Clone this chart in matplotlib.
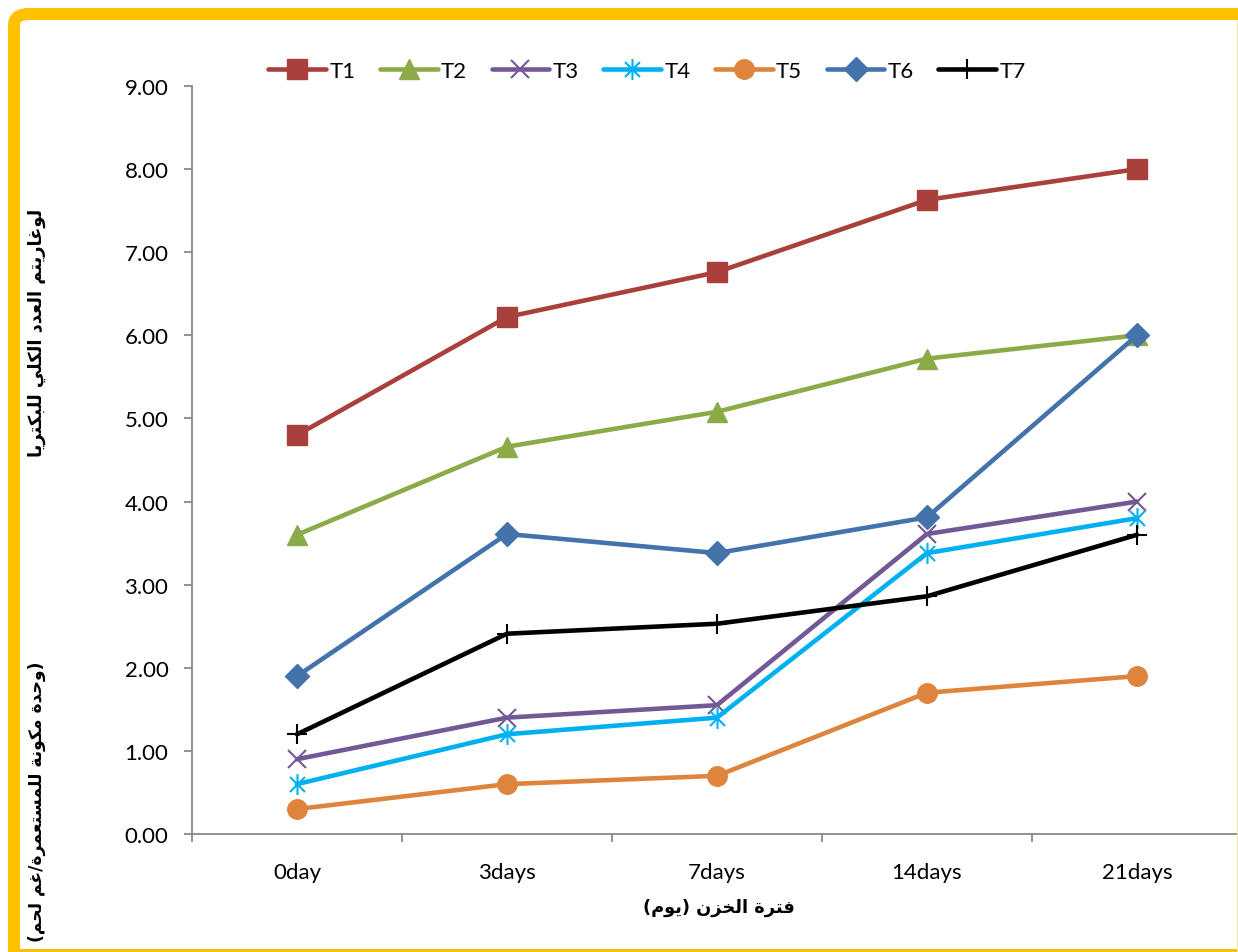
import matplotlib
matplotlib.use("Agg")
import matplotlib.pyplot as plt
from matplotlib.path import Path
from matplotlib.patches import FancyBboxPatch, Rectangle
import numpy as np

# ---------------- data ----------------
categories = ["0day", "3days", "7days", "14days", "21days"]
series_names = ["T1", "T2", "T3", "T4", "T5", "T6", "T7"]
T1 = [4.80, 6.22, 6.76, 7.63, 8.00]
T2 = [3.60, 4.66, 5.08, 5.72, 6.00]
T3 = [0.90, 1.40, 1.55, 3.61, 4.00]
T4 = [0.60, 1.20, 1.40, 3.38, 3.80]
T5 = [0.30, 0.60, 0.70, 1.70, 1.90]
T6 = [1.90, 3.61, 3.38, 3.81, 6.00]
T7 = [1.20, 2.41, 2.53, 2.86, 3.60]
yticks = [0, 1, 2, 3, 4, 5, 6, 7, 8, 9]
xlabel_text = "فترة الخزن (يوم)"
ylabel_top = "لوغاريتم العدد الكلي للبكتريا"
ylabel_bottom = "(وحدة مكونة للمستعمرة/غم لحم)"

# ---------------- simple Arabic shaping (presentation forms) ----------------
FORMS = {
    '\u0621': ('\uFE80', None, None, None),
    '\u0622': ('\uFE81', '\uFE82', None, None),
    '\u0623': ('\uFE83', '\uFE84', None, None),
    '\u0624': ('\uFE85', '\uFE86', None, None),
    '\u0625': ('\uFE87', '\uFE88', None, None),
    '\u0626': ('\uFE89', '\uFE8A', '\uFE8B', '\uFE8C'),
    '\u0627': ('\uFE8D', '\uFE8E', None, None),
    '\u0628': ('\uFE8F', '\uFE90', '\uFE91', '\uFE92'),
    '\u0629': ('\uFE93', '\uFE94', None, None),
    '\u062A': ('\uFE95', '\uFE96', '\uFE97', '\uFE98'),
    '\u062B': ('\uFE99', '\uFE9A', '\uFE9B', '\uFE9C'),
    '\u062C': ('\uFE9D', '\uFE9E', '\uFE9F', '\uFEA0'),
    '\u062D': ('\uFEA1', '\uFEA2', '\uFEA3', '\uFEA4'),
    '\u062E': ('\uFEA5', '\uFEA6', '\uFEA7', '\uFEA8'),
    '\u062F': ('\uFEA9', '\uFEAA', None, None),
    '\u0630': ('\uFEAB', '\uFEAC', None, None),
    '\u0631': ('\uFEAD', '\uFEAE', None, None),
    '\u0632': ('\uFEAF', '\uFEB0', None, None),
    '\u0633': ('\uFEB1', '\uFEB2', '\uFEB3', '\uFEB4'),
    '\u0634': ('\uFEB5', '\uFEB6', '\uFEB7', '\uFEB8'),
    '\u0635': ('\uFEB9', '\uFEBA', '\uFEBB', '\uFEBC'),
    '\u0636': ('\uFEBD', '\uFEBE', '\uFEBF', '\uFEC0'),
    '\u0637': ('\uFEC1', '\uFEC2', '\uFEC3', '\uFEC4'),
    '\u0638': ('\uFEC5', '\uFEC6', '\uFEC7', '\uFEC8'),
    '\u0639': ('\uFEC9', '\uFECA', '\uFECB', '\uFECC'),
    '\u063A': ('\uFECD', '\uFECE', '\uFECF', '\uFED0'),
    '\u0641': ('\uFED1', '\uFED2', '\uFED3', '\uFED4'),
    '\u0642': ('\uFED5', '\uFED6', '\uFED7', '\uFED8'),
    '\u0643': ('\uFED9', '\uFEDA', '\uFEDB', '\uFEDC'),
    '\u0644': ('\uFEDD', '\uFEDE', '\uFEDF', '\uFEE0'),
    '\u0645': ('\uFEE1', '\uFEE2', '\uFEE3', '\uFEE4'),
    '\u0646': ('\uFEE5', '\uFEE6', '\uFEE7', '\uFEE8'),
    '\u0647': ('\uFEE9', '\uFEEA', '\uFEEB', '\uFEEC'),
    '\u0648': ('\uFEED', '\uFEEE', None, None),
    '\u0649': ('\uFEEF', '\uFEF0', None, None),
    '\u064A': ('\uFEF1', '\uFEF2', '\uFEF3', '\uFEF4'),
}


def shape_arabic(text):
    text = text.replace('\u0644\u0627', '\uE000')
    chars = list(text)
    out = []
    for i, c in enumerate(chars):
        if c == '\uE000':
            prev = chars[i - 1] if i > 0 else ''
            pj = prev in FORMS and FORMS[prev][2] is not None
            out.append('\uFEFC' if pj else '\uFEFB')
            continue
        if c not in FORMS:
            out.append(c)
            continue
        iso, fin, ini, med = FORMS[c]
        prev = chars[i - 1] if i > 0 else ''
        nxt = chars[i + 1] if i + 1 < len(chars) else ''
        pj = prev in FORMS and FORMS[prev][2] is not None
        nj = (nxt in FORMS or nxt == '\uE000') and ini is not None
        if pj and nj and med:
            out.append(med)
        elif pj and fin:
            out.append(fin)
        elif nj and ini:
            out.append(ini)
        else:
            out.append(iso)
    vis = ''.join(reversed(out))
    vis = vis.replace('(', '\u0001').replace(')', '(').replace('\u0001', ')')
    return vis


# ---------------- figure ----------------
W, H = 1238, 953
fig = plt.figure(figsize=(W / 100, H / 100), dpi=100)
fig.patch.set_facecolor("white")

YEL = "#FFC000"
# yellow frame: rounded top-left corner, right/bottom edges pushed off-canvas
frame = FancyBboxPatch((14 / W, 1 - 1000 / H), (1300 - 14) / W, (1000 - 15) / H,
                       boxstyle="round,pad=0,rounding_size=0.012",
                       transform=fig.transFigure, facecolor="none",
                       edgecolor=YEL, linewidth=12 * 0.72, zorder=0)
fig.patches.append(frame)
fig.patches.append(Rectangle((8 / W, 0), (W - 8) / W, 3 / H, transform=fig.transFigure,
                             facecolor=YEL, edgecolor="none", zorder=0))
fig.patches.append(Rectangle((1236.5 / W, 0), 1.5 / W, (953 - 21) / H, transform=fig.transFigure,
                             facecolor="#FCE3A0", edgecolor="none", zorder=0))

ax_left, ax_right = 192, 1242
ax_top, ax_bottom = 87, 835
ax = fig.add_axes([ax_left / W, 1 - ax_bottom / H, (ax_right - ax_left) / W,
                   (ax_bottom - ax_top) / H])
ax.set_facecolor("none")

x = np.arange(len(categories))

star_path = Path([(0, -1), (0, 1), (-0.72, -0.72), (0.72, 0.72), (-0.72, 0.72), (0.72, -0.72)],
                 [Path.MOVETO, Path.LINETO, Path.MOVETO, Path.LINETO, Path.MOVETO, Path.LINETO])

styles = [
    dict(color="#A9403C", marker="s", ms=14, mfc="#A9403C", mec="#A9403C"),
    dict(color="#8BAA48", marker="^", ms=15, mfc="#8BAA48", mec="#8BAA48"),
    dict(color="#735896", marker="x", ms=13, mew=1.5),
    dict(color="#00B0F0", marker=star_path, ms=15, mew=1.5, mfc="none"),
    dict(color="#DE843C", marker="o", ms=14, mfc="#DE843C", mec="#DE843C"),
    dict(color="#4472AA", marker="D", ms=12, mfc="#4472AA", mec="#4472AA"),
    dict(color="#000000", marker="+", ms=14, mew=1.5),
]
all_series = [T1, T2, T3, T4, T5, T6, T7]
for name, vals, st in zip(series_names, all_series, styles):
    ax.plot(x, vals, lw=3.3, label=name, solid_capstyle="round", clip_on=False, **st)

ax.set_xlim(-0.5, len(categories) - 0.5)
ax.set_ylim(0, 9)

for s in ["top", "right"]:
    ax.spines[s].set_visible(False)
for s in ["left", "bottom"]:
    ax.spines[s].set_color("#898989")
    ax.spines[s].set_linewidth(1.3)

tick_font = "Lato"
ax.set_yticks(yticks)
ax.set_yticklabels([f"{v:.2f}" for v in yticks], fontfamily=tick_font, fontsize=16)
ax.tick_params(axis="y", direction="out", length=6, width=1.3, color="#898989", pad=11)

ax.set_xticks(np.arange(-0.5, len(categories), 1.0))
ax.set_xticklabels([])
ax.set_xticks(x, minor=True)
ax.set_xticklabels(categories, minor=True, fontfamily=tick_font, fontsize=16)
ax.tick_params(axis="x", which="major", direction="out", length=6, width=1.3, color="#898989")
ax.tick_params(axis="x", which="minor", length=0, pad=20)

leg = ax.legend(loc="center", bbox_to_anchor=(647 / W, 1 - 72 / H), bbox_transform=fig.transFigure,
                ncol=7, frameon=False, handlelength=2.6, handletextpad=0.15, columnspacing=1.1,
                prop={"family": tick_font, "size": 16})

arab_font = "DejaVu Sans"
fig.text(719 / W, 1 - 908 / H, shape_arabic(xlabel_text), ha="center", va="center",
         fontsize=12.8, fontweight="bold", fontfamily=arab_font)
fig.text(37 / W, 1 - 333 / H, shape_arabic(ylabel_top), ha="center", va="center",
         rotation=90, fontsize=12.8, fontweight="bold", fontfamily=arab_font)
fig.text(37 / W, 1 - 662 / H, shape_arabic(ylabel_bottom), ha="center", va="top",
         rotation=90, fontsize=12.3, fontweight="bold", fontfamily=arab_font)

fig.savefig("out.png", dpi=100)
